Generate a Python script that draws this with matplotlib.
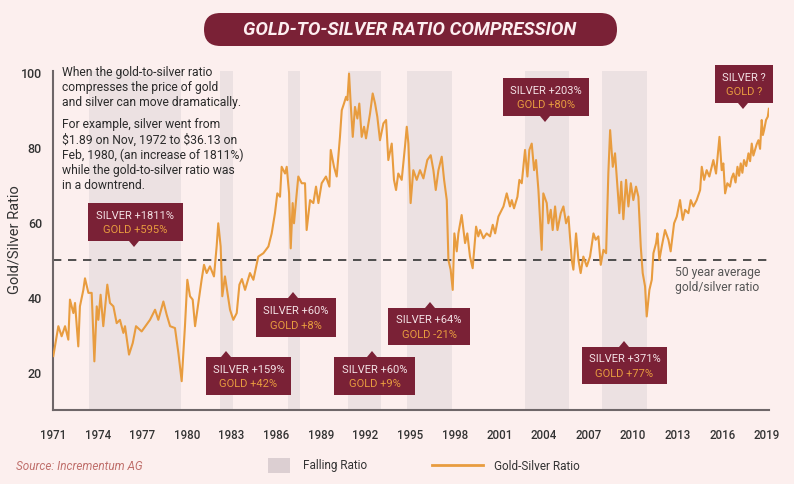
import matplotlib.pyplot as plt
from matplotlib.patches import Rectangle, Polygon, FancyBboxPatch

plt.rcParams['font.family'] = ['Roboto', 'DejaVu Sans']

# gold/silver ratio
years = [1971.02, 1971.36, 1971.58, 1971.81, 1972.03, 1972.14, 1972.37, 1972.48, 1972.70, 1972.81,
         1973.04, 1973.15, 1973.38, 1973.60, 1973.78, 1973.94, 1974.05, 1974.20, 1974.38, 1974.65,
         1974.83, 1975.06, 1975.28, 1975.50, 1975.73, 1975.84, 1976.11, 1976.36, 1976.58, 1976.96,
         1977.52, 1977.86, 1978.08, 1978.42, 1978.64, 1978.87, 1979.20, 1979.43, 1979.65, 1979.87,
         1980.03, 1980.21, 1980.39, 1980.55, 1980.77, 1980.99, 1981.15, 1981.33, 1981.55, 1981.82,
         1982.00, 1982.11, 1982.27, 1982.38, 1982.56, 1982.90, 1983.12, 1983.35, 1983.53, 1983.70,
         1983.91, 1984.24, 1984.47, 1984.80, 1985.14, 1985.48, 1985.70, 1985.92, 1986.08, 1986.26,
         1986.37, 1986.60, 1986.71, 1986.87, 1986.98, 1987.11, 1987.20, 1987.34, 1987.49, 1987.72,
         1987.94, 1988.05, 1988.28, 1988.50, 1988.68, 1988.84, 1989.06, 1989.35, 1989.58, 1989.67,
         1989.89, 1990.07, 1990.29, 1990.41, 1990.56, 1990.70, 1990.79, 1990.90, 1991.01, 1991.15,
         1991.30, 1991.46, 1991.59, 1991.75, 1991.91, 1992.04, 1992.31, 1992.49, 1992.65, 1992.80,
         1992.98, 1993.21, 1993.39, 1993.54, 1993.77, 1993.92, 1994.06, 1994.21, 1994.44, 1994.66,
         1994.78, 1994.89, 1995.04, 1995.22, 1995.45, 1995.67, 1995.90, 1996.16, 1996.39, 1996.57,
         1996.73, 1996.91, 1997.13, 1997.29, 1997.47, 1997.58, 1997.73, 1997.87, 1997.98, 1998.14,
         1998.25, 1998.47, 1998.70, 1998.85, 1999.03, 1999.21, 1999.44, 1999.59, 1999.71, 1999.93,
         2000.15, 2000.38, 2000.56, 2000.72, 2000.94, 2001.28, 2001.50, 2001.72, 2001.84, 2001.99,
         2002.22, 2002.35, 2002.51, 2002.73, 2002.89, 2003.02, 2003.18, 2003.34, 2003.47, 2003.63,
         2003.85, 2003.96, 2004.19, 2004.30, 2004.46, 2004.59, 2004.75, 2004.91, 2005.13, 2005.31,
         2005.49, 2005.65, 2005.87, 2005.98, 2006.16, 2006.32, 2006.47, 2006.65, 2006.88, 2007.10,
         2007.33, 2007.48, 2007.66, 2007.82, 2008.00, 2008.18, 2008.33, 2008.45, 2008.63, 2008.78,
         2008.94, 2009.07, 2009.20, 2009.34, 2009.52, 2009.68, 2009.84, 2010.01, 2010.19, 2010.35,
         2010.51, 2010.64, 2010.80, 2010.91, 2011.09, 2011.25, 2011.36, 2011.54, 2011.63, 2011.76,
         2011.92, 2012.14, 2012.37, 2012.52, 2012.75, 2012.93, 2013.15, 2013.33, 2013.49, 2013.71,
         2013.87, 2014.05, 2014.27, 2014.50, 2014.61, 2014.77, 2014.94, 2015.12, 2015.39, 2015.57,
         2015.80, 2015.95, 2016.06, 2016.18, 2016.33, 2016.51, 2016.62, 2016.74, 2016.88, 2017.01,
         2017.12, 2017.23, 2017.34, 2017.45, 2017.60, 2017.75, 2017.86, 2017.97, 2018.08, 2018.19,
         2018.30, 2018.42, 2018.53, 2018.64, 2018.72, 2018.80, 2018.93, 2019.05, 2019.12]
ratio = [24.4, 32.4, 29.7, 32.4, 28.8, 39.5, 35.9, 38.6, 27.0, 37.7,
         42.1, 45.2, 41.3, 41.3, 23.0, 37.7, 34.1, 40.8, 32.4, 43.5,
         38.6, 37.7, 33.2, 34.1, 30.6, 32.4, 24.8, 27.9, 32.4, 31.0,
         34.1, 36.8, 34.1, 39.0, 35.5, 32.4, 31.9, 25.2, 17.7, 32.4,
         44.8, 40.4, 39.5, 32.4, 38.6, 44.8, 48.8, 46.6, 48.4, 45.7,
         53.7, 59.9, 53.7, 40.4, 45.7, 36.8, 34.1, 35.9, 43.5, 45.0,
         42.1, 46.6, 44.8, 51.0, 51.9, 53.7, 57.2, 62.6, 67.9, 67.0,
         75.0, 73.2, 75.0, 67.9, 53.2, 65.3, 59.9, 66.1, 72.4, 70.6,
         70.6, 58.1, 66.1, 65.3, 69.7, 65.3, 70.6, 72.4, 69.7, 79.5,
         75.0, 72.4, 83.0, 90.1, 91.9, 93.7, 92.8, 99.9, 91.9, 83.0,
         91.0, 87.9, 91.9, 83.0, 85.7, 82.6, 89.2, 94.6, 91.9, 88.4,
         82.1, 86.6, 87.5, 76.8, 81.2, 71.5, 68.8, 73.2, 71.5, 80.4,
         85.7, 81.2, 65.3, 74.1, 71.5, 74.1, 71.9, 76.8, 78.1, 74.1,
         68.8, 74.1, 77.7, 71.5, 66.1, 50.1, 47.5, 42.1, 57.2, 52.4,
         57.2, 62.1, 54.6, 57.2, 51.0, 47.9, 59.0, 56.4, 58.1, 55.9,
         57.2, 56.4, 59.5, 57.2, 61.7, 64.4, 67.9, 64.4, 66.1, 63.9,
         67.0, 71.5, 70.6, 79.5, 72.4, 79.5, 81.2, 74.1, 76.8, 68.8,
         52.8, 67.9, 65.3, 59.9, 63.5, 58.1, 64.4, 58.1, 62.6, 64.4,
         59.9, 61.7, 50.1, 47.5, 57.2, 50.1, 46.6, 51.0, 48.4, 51.0,
         57.2, 55.5, 56.4, 48.8, 52.8, 51.9, 73.2, 84.8, 75.0, 78.6,
         69.7, 62.6, 71.0, 61.0, 71.5, 64.4, 70.6, 66.1, 69.7, 67.0,
         53.7, 46.6, 43.0, 35.0, 42.1, 44.8, 51.9, 54.6, 57.2, 50.1,
         53.7, 58.1, 55.5, 52.4, 59.9, 61.7, 66.1, 60.8, 63.5, 62.6,
         66.1, 64.4, 66.1, 68.8, 75.0, 71.5, 74.1, 72.4, 76.8, 73.2,
         83.0, 74.1, 75.9, 67.9, 70.6, 69.7, 72.0, 73.2, 70.8, 75.0,
         72.6, 75.9, 73.4, 76.8, 75.2, 78.6, 76.5, 81.2, 78.0, 79.5,
         81.0, 82.1, 79.8, 87.5, 83.5, 84.8, 87.5, 88.4, 90.5]

# periods of falling ratio
band_start = [1973.4, 1982.2, 1986.8, 1990.8, 1994.8, 2002.7, 2007.9]
band_end = [1979.6, 1983.1, 1987.6, 1993.05, 1997.8, 2005.7, 2010.9]
avg_ratio = 50
x_ticks = list(range(1971, 2020, 3))
y_ticks = [20, 40, 60, 80, 100]

# callouts: silver text, gold text, box left, top, width, height (px), pointer side, pointer x
callouts = [
    ('SILVER +1811%', 'GOLD +595%', 88, 203, 95, 38, 'down', 134),
    ('SILVER +159%', 'GOLD +42%', 206, 357, 85, 38, 'up', 226),
    ('SILVER +60%', 'GOLD +8%', 256, 298, 80, 39, 'up', 293),
    ('SILVER +60%', 'GOLD +9%', 334, 357, 81, 38, 'up', 372),
    ('SILVER +64%', 'GOLD -21%', 388, 308, 82, 37, 'up', 430),
    ('SILVER +203%', 'GOLD +80%', 503, 78, 86, 38, 'down', 545),
    ('SILVER +371%', 'GOLD +77%', 582, 347, 85, 37, 'up', 624),
    ('SILVER ?', 'GOLD ?', 715, 65, 58, 38, 'down', 743),
]

bg = '#fcefee'
maroon = '#7a2136'
orange = '#e89c3f'

fig = plt.figure(figsize=(7.94, 4.84), dpi=100)
fig.patch.set_facecolor(bg)

ax = fig.add_axes([53 / 794, 1 - 410 / 484, 716 / 794, 339 / 484])
ax.set_facecolor(bg)
for s, e in zip(band_start, band_end):
    ax.axvspan(s, e, color='#ece1e2', lw=0, zorder=0)
ax.axhline(avg_ratio, color='#333333', lw=1.2, ls=(0, (5, 4)), zorder=2)
ax.plot(years, ratio, color=orange, lw=1.5, zorder=3)

ax.set_xlim(1971, 2019.13)
ax.set_ylim(10, 100.6)
ax.set_xticks(x_ticks)
ax.set_yticks(y_ticks)
ax.tick_params(axis='x', length=0, pad=14, labelsize=8.3, labelcolor='#333333')
ax.tick_params(axis='y', length=0, pad=8, labelsize=9, labelcolor='#333333')
for lab in ax.get_xticklabels() + ax.get_yticklabels():
    lab.set_fontweight('medium')
ax.spines['top'].set_visible(False)
ax.spines['right'].set_visible(False)
for sp in ['left', 'bottom']:
    ax.spines[sp].set_color('#6e6668')
    ax.spines[sp].set_linewidth(1.5)

# overlay in pixel coordinates for title, notes and legend
ov = fig.add_axes([0, 0, 1, 1], zorder=5)
ov.set_xlim(0, 794)
ov.set_ylim(484, 0)
ov.axis('off')
ov.patch.set_alpha(0)

ov.text(15, 240, 'Gold/Silver Ratio', rotation=90, fontsize=10.5, color='#333333',
        ha='center', va='center')

ov.add_patch(FancyBboxPatch((204, 13), 413, 33, boxstyle='round,pad=0,rounding_size=16.5',
                            fc=maroon, ec='none'))
ov.text(410, 30, 'GOLD-TO-SILVER RATIO COMPRESSION', color='#fdeef0', fontsize=13.5,
        fontweight='bold', fontstyle='italic', ha='center', va='center')

ov.text(62, 66, 'When the gold-to-silver ratio\ncompresses the price of gold\n'
        'and silver can move dramatically.', fontsize=8.7, color='#2b2b2b',
        va='top', ha='left', linespacing=1.2)
ov.text(62, 118, 'For example, silver went from\n\\$1.89 on Nov, 1972 to \\$36.13 on\n'
        'Feb, 1980, (an increase of 1811%)\nwhile the gold-to-silver ratio was\n'
        'in a downtrend.', fontsize=8.7, color='#2b2b2b', va='top', ha='left', linespacing=1.2)

ov.text(675, 280, '50 year average\ngold/silver ratio', fontsize=8.7, color='#555555',
        va='center', ha='left', linespacing=1.15)

for silver, gold, x0, y0, w, h, side, px in callouts:
    ov.add_patch(Rectangle((x0, y0), w, h, fc=maroon, ec='none'))
    if side == 'down':
        tri = [(px - 5, y0 + h), (px + 5, y0 + h), (px, y0 + h + 6)]
    else:
        tri = [(px - 5, y0), (px + 5, y0), (px, y0 - 6)]
    ov.add_patch(Polygon(tri, closed=True, fc=maroon, ec='none'))
    ov.text(x0 + w / 2, y0 + h * 0.33, silver, color='#f3e1e5', fontsize=8,
            ha='center', va='center')
    ov.text(x0 + w / 2, y0 + h * 0.72, gold, color=orange, fontsize=8,
            ha='center', va='center')

# legend row
ov.text(16, 466, 'Source: Incrementum AG', fontsize=8.5, fontstyle='italic',
        color='#c0706c', ha='left', va='center')
ov.add_patch(Rectangle((268, 458), 22, 15, fc='#dccfd2', ec='none'))
ov.text(303, 465, 'Falling Ratio', fontsize=8.5, color='#333333', ha='left', va='center')
ov.plot([432, 483], [465, 465], color=orange, lw=2)
ov.text(494, 466, 'Gold-Silver Ratio', fontsize=8.5, color='#333333', ha='left', va='center')

fig.savefig('out.png', dpi=100, facecolor=bg)
